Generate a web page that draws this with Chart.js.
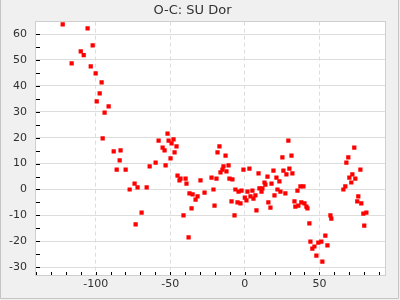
<!DOCTYPE html>
<html>
<head>
<meta charset="utf-8">
<script src="https://cdn.jsdelivr.net/npm/chart.js@4/dist/chart.umd.min.js"></script>
<style>
    html, body { margin: 0; padding: 0; background: #f0f0f0; }
    #wrap { width: 400px; height: 300px; }
</style>
</head>
<body>
<div id="wrap"><canvas id="oc-chart" width="400" height="300"></canvas></div>
<script>
// 相位 (x) 與 O-C 值 (y)
var phaseValues = [
    -122.1, -116.1, -105.4, -110.0, -108.0, -102.0, -103.3, -100.0, -96.0, -97.3,
    -99.3, -91.3, -94.0, -95.3, -87.9, -83.3, -83.9, -85.9, -79.9, -77.2,
    -73.9, -71.9, -73.2, -69.2, -65.8, -63.8, -59.8, -57.8, -55.1, -53.8,
    -53.1, -51.8, -51.1, -49.1, -47.8, -49.8, -47.1, -45.8, -45.1, -43.8,
    -43.1, -39.7, -39.1, -41.1, -37.7, -37.1, -35.0, -35.7, -33.0, -31.7,
    -29.7, -27.0, -22.3, -21.0, -20.3, -19.0, -18.3, -17.0, -16.3, -15.0,
    -14.3, -12.9, -12.3, -10.9, -10.3, -8.3, -8.9, -6.9, -6.3, -4.9,
    -4.2, -2.9, -2.2, -0.9, 0.0, 1.1, 1.8, 3.1, 3.8, 5.1,
    5.8, 7.1, 7.8, 9.2, 9.8, 11.2, 11.8, 13.2, 13.8, 15.2,
    15.8, 17.2, 17.9, 19.2, 19.9, 21.2, 21.9, 23.2, 23.9, 25.2,
    25.9, 27.2, 27.9, 29.2, 29.9, 31.3, 31.9, 33.3, 33.9, 35.3,
    35.9, 37.3, 37.9, 39.3, 40.0, 41.3, 42.0, 43.3, 44.0, 45.3,
    46.7, 48.0, 49.3, 51.3, 52.0, 54.0, 55.4, 57.4, 58.0, 66.1,
    67.4, 68.1, 69.4, 70.1, 71.4, 72.1, 73.4, 74.1, 75.4, 76.1,
    77.5, 78.1, 79.5, 80.1, 81.5
];
var ocValues = [
    63.7, 48.7, 62.2, 53.3, 51.9, 55.6, 47.5, 44.8, 41.3, 37.1,
    34.0, 32.1, 29.7, 19.7, 14.7, 15.1, 11.2, 7.7, 7.7, 0.0,
    2.3, 0.8, -13.5, -8.9, 0.8, 8.9, 10.4, 18.9, 16.2, 15.1,
    9.3, 21.6, 18.9, 17.8, 19.3, 12.0, 14.3, 16.6, 5.4, 3.5,
    4.2, 4.2, 2.3, -10.0, -18.5, -1.5, -1.9, -7.3, -3.9, -2.7,
    3.5, -1.2, 4.6, 0.0, -6.2, 4.2, 14.3, 16.6, 6.6, 7.7,
    8.9, 13.1, 7.0, 9.3, 4.2, 3.9, -4.6, -10.0, 0.0, -5.0,
    -0.8, -5.4, -0.4, 7.7, -3.1, -4.2, -0.8, 8.1, -2.7, -0.4,
    -3.5, -2.3, -8.1, 6.2, 0.4, -0.8, 0.4, 2.7, 1.9, 5.0,
    -5.0, -7.0, 2.3, 7.3, -2.3, 4.6, 0.0, 3.1, -0.8, 12.4,
    7.3, -1.5, 5.8, 18.9, 8.1, 13.1, 6.2, -4.6, -6.6, -0.4,
    -6.2, 1.2, -5.0, 1.2, -5.4, -6.6, -7.3, -13.1, -20.1, -22.8,
    -22.0, -25.5, -20.5, -20.1, -27.8, -17.8, -21.6, -10.0, -11.2, 0.0,
    1.2, 10.4, 12.4, 4.6, 2.7, 5.8, 16.2, 4.2, -4.6, -2.7,
    7.7, -5.4, -9.3, -13.9, -8.9
];

// 軸刻度
var xMajorStep = 50;
var xMinorStep = 10;
var yMajorStep = 10;
var yMinorStep = 5;

var points = phaseValues.map(function(x, i) {
    return { x: x, y: ocValues[i] };
});

// 背景、繪圖區邊框與內側小刻度
var framePlugin = {
    id: 'frame',
    beforeDraw: function(chart) {
        var ctx = chart.ctx;
        var a = chart.chartArea;
        ctx.save();
        ctx.fillStyle = '#f0f0f0';
        ctx.fillRect(0, 0, chart.width, chart.height);
        ctx.strokeStyle = '#c4c4c4';
        ctx.lineWidth = 1;
        ctx.beginPath();
        ctx.moveTo(0.5, 0);
        ctx.lineTo(0.5, 298.5);
        ctx.lineTo(398.5, 298.5);
        ctx.lineTo(398.5, 0);
        ctx.stroke();
        ctx.fillStyle = '#ffffff';
        ctx.fillRect(a.left, a.top, a.right - a.left, a.bottom - a.top);
        ctx.restore();
    },
    afterDatasetsDraw: function(chart) {
        var ctx = chart.ctx;
        var a = chart.chartArea;
        var xs = chart.scales.x;
        var ys = chart.scales.y;
        var v, p;
        ctx.save();
        ctx.strokeStyle = '#cfcfcf';
        ctx.lineWidth = 1;
        ctx.strokeRect(Math.round(a.left) - 0.5, Math.round(a.top) - 0.5,
            Math.round(a.right - a.left) + 1, Math.round(a.bottom - a.top) + 1);
        ctx.strokeStyle = '#000000';
        ctx.beginPath();
        for (v = Math.ceil(xs.min / xMinorStep) * xMinorStep; v <= xs.max; v += xMinorStep) {
            p = Math.round(xs.getPixelForValue(v)) + 0.5;
            ctx.moveTo(p, a.bottom);
            ctx.lineTo(p, a.bottom - 3);
        }
        for (v = Math.ceil(ys.min / yMinorStep) * yMinorStep; v <= ys.max; v += yMinorStep) {
            p = Math.round(ys.getPixelForValue(v)) + 0.5;
            ctx.moveTo(a.left, p);
            ctx.lineTo(a.left + 4, p);
        }
        ctx.stroke();
        ctx.restore();
    }
};

var tickFont = { family: '"DejaVu Sans", sans-serif', size: 11 };

new Chart(document.getElementById('oc-chart').getContext('2d'), {
    type: 'scatter',
    data: {
        datasets: [{
            label: 'O-C',
            data: points,
            pointStyle: 'rect',
            pointRadius: 3,
            pointHoverRadius: 3,
            backgroundColor: '#ff0000',
            borderWidth: 0
        }]
    },
    options: {
        responsive: false,
        animation: false,
        events: [],
        layout: {
            padding: { top: 0, right: 15, bottom: 0, left: 0 }
        },
        plugins: {
            legend: { display: false },
            tooltip: { enabled: false },
            title: {
                display: true,
                text: 'O-C: SU Dor',
                color: '#303030',
                padding: { top: 3, bottom: 3 },
                font: { family: '"DejaVu Sans", sans-serif', size: 13, weight: 'normal' }
            }
        },
        scales: {
            x: {
                type: 'linear',
                min: -140,
                max: 94,
                afterBuildTicks: function(scale) {
                    scale.ticks = scale.ticks.filter(function(t) { return t.value % xMajorStep === 0; });
                },
                afterFit: function(scale) { scale.height = 25; },
                border: { display: false, dash: [4, 3] },
                grid: { color: '#dddddd', drawTicks: false },
                ticks: {
                    stepSize: xMajorStep,
                    includeBounds: false,
                    padding: 3,
                    color: '#303030',
                    font: tickFont,
                    maxRotation: 0
                }
            },
            y: {
                type: 'linear',
                min: -33,
                max: 64.8,
                afterBuildTicks: function(scale) {
                    scale.ticks = scale.ticks.filter(function(t) { return t.value % yMajorStep === 0; });
                },
                afterFit: function(scale) { scale.width = 36; },
                border: { display: false },
                grid: { color: '#dddddd', drawTicks: false },
                ticks: {
                    stepSize: yMajorStep,
                    includeBounds: false,
                    padding: 9,
                    color: '#303030',
                    font: tickFont
                }
            }
        }
    },
    plugins: [framePlugin]
});
</script>
</body>
</html>
